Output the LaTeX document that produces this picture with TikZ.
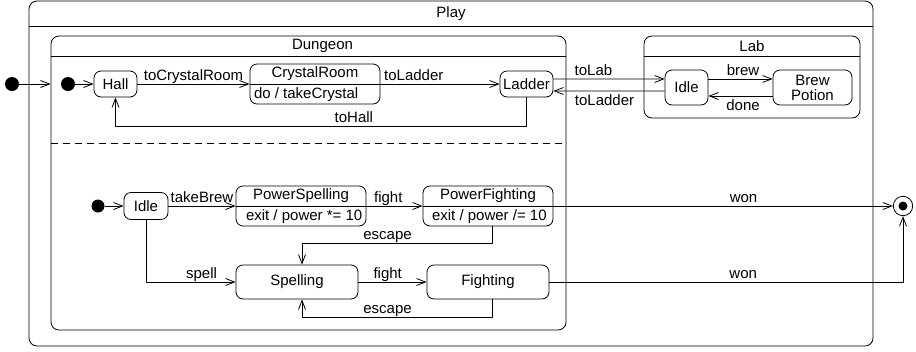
\documentclass[tikz,border=0pt]{standalone}
\usepackage{fontspec}
\setmainfont{Liberation Sans}
\usetikzlibrary{arrows.meta}

\tikzset{
  comp/.style={draw, rounded corners=8bp, inner sep=0pt},
  state/.style={draw, rounded corners=7bp, inner sep=0pt, align=center},
  txt/.style={inner sep=0pt},
  lbl/.style={inner sep=0pt, anchor=base, yshift=4bp},
  lblb/.style={inner sep=0pt, anchor=north, yshift=-3bp},
  initdot/.style={circle, fill, inner sep=0pt, minimum size=13bp},
}

\begin{document}
\begin{tikzpicture}[x=1bp,y=-1bp,>={Straight Barb[length=9bp,width=7bp]},line join=bevel,
  every node/.style={font=\fontsize{15bp}{18bp}\selectfont}]
  \pgfsetlinewidth{0.8bp}
  \useasboundingbox (0,0) rectangle (916,351);
%%
  % Node: play
  \node[comp, minimum width=844bp, minimum height=345bp] (play) at (451,173.5) {};
  \draw ([yshift=-26bp]play.north west) -- ([yshift=-26bp]play.north east);
  \node[txt] (playtitle) at ([yshift=-13bp]play.north) {Play};
  % Node: dungeon
  \node[comp, minimum width=515bp, minimum height=294bp] (dungeon) at (308.5,183) {};
  \draw ([yshift=-21bp]dungeon.north west) -- ([yshift=-21bp]dungeon.north east);
  \node[txt] (dungeontitle) at ([xshift=14bp,yshift=-10.5bp]dungeon.north) {Dungeon};
  \draw [dash pattern=on 7bp off 5bp] ([yshift=-108bp]dungeon.north west) -- ([yshift=-108bp]dungeon.north east);
  % Node: lab
  \node[comp, minimum width=216bp, minimum height=82bp] (lab) at (752,77) {};
  \draw ([yshift=-21bp]lab.north west) -- ([yshift=-21bp]lab.north east);
  \node[txt] (labtitle) at ([yshift=-10.5bp]lab.north) {Lab};
%
  % Node: init1, init2
  \node[initdot, minimum size=14bp] (init1) at (12,84) {};
  \node[initdot, minimum size=14bp] (init2) at (68,84) {};
  % Node: hall
  \node[state, minimum width=43bp, minimum height=26bp] (hall) at (115.5,84) {Hall};
  % Node: crystal
  \node[state, minimum width=130bp, minimum height=40bp] (crystal) at (315,84) {};
  \draw (crystal.west) -- (crystal.east);
  \node[txt] (crystalname) at ([yshift=10bp]crystal.center) {CrystalRoom};
  \node[txt, anchor=west] (crystaldo) at ([xshift=4bp,yshift=-11bp]crystal.west) {do / takeCrystal};
  % Node: ladder
  \node[state, minimum width=53bp, minimum height=26bp] (ladder) at (526.5,84) {Ladder};
  % Node: labidle
  \node[state, minimum width=43bp, minimum height=35bp] (labidle) at (686.5,87.5) {Idle};
  % Node: brewpot
  \node[state, minimum width=79bp, minimum height=35bp, font=\fontsize{15bp}{15bp}\selectfont] (brewpot) at (812.5,87.5) {Brew\\Potion};
%
  % Node: init3
  \node[initdot] (init3) at (98,206) {};
  % Node: lidle
  \node[state, minimum width=44bp, minimum height=27bp] (lidle) at (146,206) {Idle};
  % Node: powspell
  \node[state, minimum width=130bp, minimum height=40bp] (powspell) at (301,206) {};
  \draw (powspell.west) -- (powspell.east);
  \node[txt] (powspellname) at ([yshift=10bp]powspell.center) {PowerSpelling};
  \node[txt, anchor=west] (powspellexit) at ([xshift=10bp,yshift=-11bp]powspell.west) {exit / power *= 10};
  % Node: powfight
  \node[state, minimum width=130bp, minimum height=40bp] (powfight) at (488,206) {};
  \draw (powfight.west) -- (powfight.east);
  \node[txt] (powfightname) at ([yshift=10bp]powfight.center) {PowerFighting};
  \node[txt, anchor=west] (powfightexit) at ([xshift=9bp,yshift=-11bp]powfight.west) {exit / power /= 10};
  % Node: spelling
  \node[state, minimum width=122bp, minimum height=34bp] (spelling) at (297,282) {Spelling};
  % Node: fighting
  \node[state, minimum width=122bp, minimum height=34bp] (fighting) at (488,282) {Fighting};
  % Node: final
  \node[circle, draw, inner sep=0pt, minimum size=19.4bp] (final) at (903,206) {};
  \node[circle, fill, inner sep=0pt, minimum size=9bp] (finaldot) at (final) {};
%
  % Edge: init1 -> dungeon
  \draw [->] (init1) -- (init1 -| dungeon.west);
  % Edge: init2 -> hall
  \draw [->] (init2) -- (hall.west);
  % Edge: hall -> crystal
  \draw [->] (hall.east) -- node[lbl] {toCrystalRoom} (crystal.west);
  % Edge: crystal -> ladder
  \draw [->] (crystal.east) -- node[lbl, pos=0.28] {toLadder} (ladder.west);
  % Edge: ladder -> hall
  \draw [->] (ladder.south) -- ++(0,29) -| node[lbl, pos=0.21] {toHall} (hall.south);
  % Edge: ladder -> labidle
  \draw [->] ([yshift=5bp]ladder.east) -- node[lbl, pos=0.36] {toLab} ([yshift=8.5bp]labidle.west);
  % Edge: labidle -> ladder
  \draw [->] ([yshift=-3.5bp]labidle.west) -- node[lblb, pos=0.54] {toLadder} ([yshift=-7bp]ladder.east);
  % Edge: labidle -> brewpot
  \draw [->] ([yshift=8.5bp]labidle.east) -- node[lbl, pos=0.54] {brew} ([yshift=8.5bp]brewpot.west);
  % Edge: brewpot -> labidle
  \draw [->] ([yshift=-8.5bp]brewpot.west) -- node[lblb, pos=0.46] {done} ([yshift=-8.5bp]labidle.east);
  % Edge: init3 -> lidle
  \draw [->] (init3) -- (lidle.west);
  % Edge: lidle -> powspell
  \draw [->] (lidle.east) -- node[lbl] {takeBrew} (powspell.west);
  % Edge: powspell -> powfight
  \draw [->] (powspell.east) -- node[lbl, pos=0.39] {fight} (powfight.west);
  % Edge: powfight -> final
  \draw [->] (powfight.east) -- node[lbl, pos=0.56] {won} (final.west);
  % Edge: powfight -> spelling
  \draw [->] ([xshift=4bp]powfight.south) -- ++(0,17) -| node[lbl, pos=0.275] {escape} ([xshift=5bp]spelling.north);
  % Edge: lidle -> spelling
  \draw [->] (lidle.south) |- node[lbl, pos=0.81] {spell} (spelling.west);
  % Edge: spelling -> fighting
  \draw [->] (spelling.east) -- node[lbl, pos=0.43] {fight} (fighting.west);
  % Edge: fighting -> spelling
  \draw [->] ([xshift=4bp]fighting.south) -- ++(0,18) -| node[lbl, pos=0.275] {escape} ([xshift=5bp]spelling.south);
  % Edge: fighting -> final
  \draw [->] (fighting.east) -| node[lbl, pos=0.274] {won} (final.south);
%
\end{tikzpicture}
\end{document}
